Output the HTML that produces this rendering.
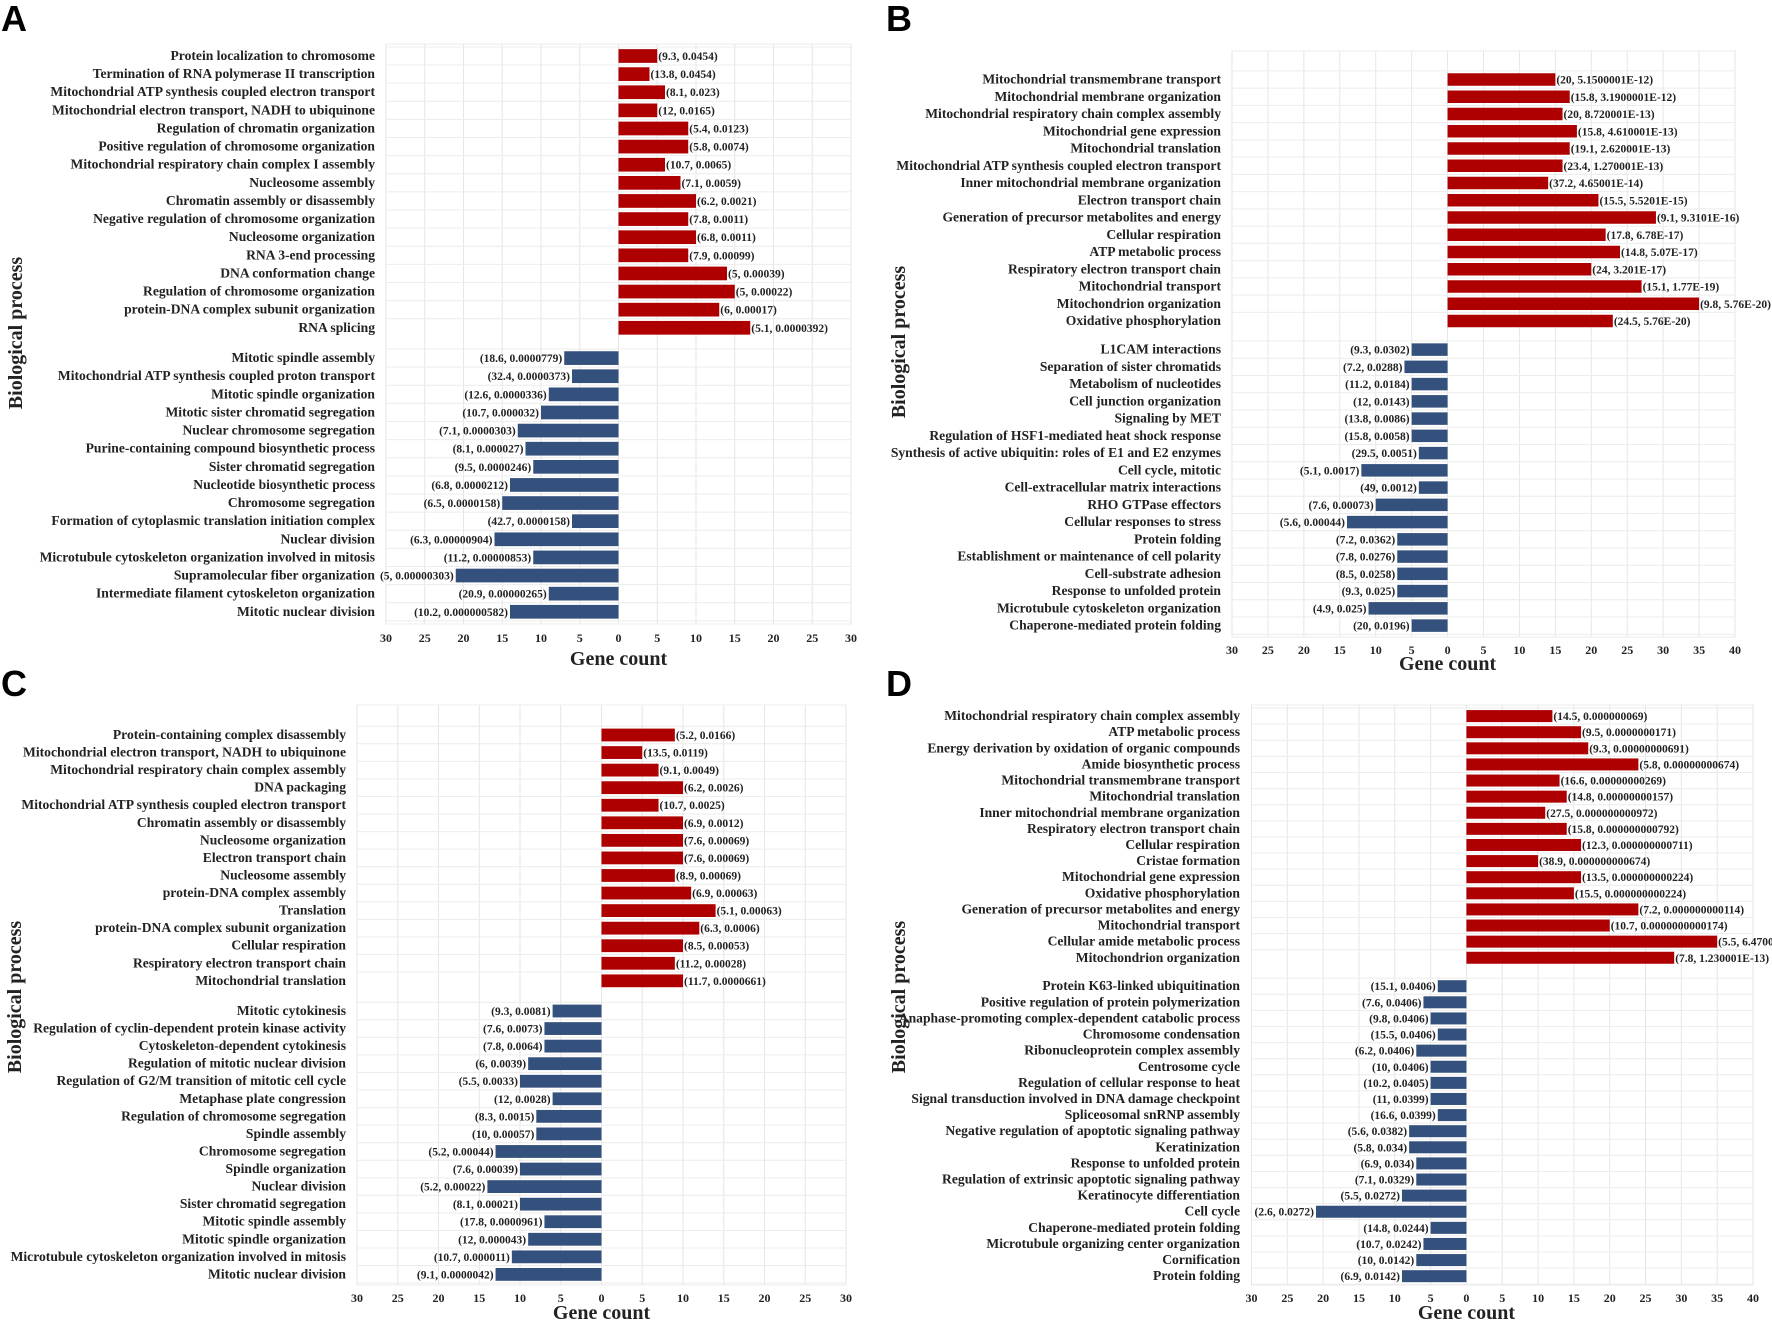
<!DOCTYPE html>
<html><head><meta charset="utf-8"><style>
html,body{margin:0;padding:0;background:#fff;}
svg{display:block;}
.lab{font-family:"Liberation Serif",serif;font-weight:bold;font-size:13.6px;fill:#222;}
.val{font-family:"Liberation Serif",serif;font-weight:bold;font-size:11.5px;fill:#222;}
.tick{font-family:"Liberation Serif",serif;font-weight:bold;font-size:12px;fill:#222;}
.ax{font-family:"Liberation Serif",serif;font-weight:bold;font-size:20px;fill:#222;}
.pl{font-family:"Liberation Sans",sans-serif;font-weight:bold;font-size:36px;fill:#000;}
</style></head><body>
<svg id="chart" xmlns="http://www.w3.org/2000/svg" width="1772" height="1325" viewBox="0 0 1772 1325"></svg>
<script>
// ---- Panel A data ----
const aUpLabels=["Protein localization to chromosome","Termination of RNA polymerase II transcription","Mitochondrial ATP synthesis coupled electron transport","Mitochondrial electron transport, NADH to ubiquinone","Regulation of chromatin organization","Positive regulation of chromosome organization","Mitochondrial respiratory chain complex I assembly","Nucleosome assembly","Chromatin assembly or disassembly","Negative regulation of chromosome organization","Nucleosome organization","RNA 3-end processing","DNA conformation change","Regulation of chromosome organization","protein-DNA complex subunit organization","RNA splicing"];
const aUpCounts=[5,4,6,5,9,9,6,8,10,9,10,9,14,15,13,17];
const aUpText=["(9.3, 0.0454)","(13.8, 0.0454)","(8.1, 0.023)","(12, 0.0165)","(5.4, 0.0123)","(5.8, 0.0074)","(10.7, 0.0065)","(7.1, 0.0059)","(6.2, 0.0021)","(7.8, 0.0011)","(6.8, 0.0011)","(7.9, 0.00099)","(5, 0.00039)","(5, 0.00022)","(6, 0.00017)","(5.1, 0.0000392)"];
const aDownLabels=["Mitotic spindle assembly","Mitochondrial ATP synthesis coupled proton transport","Mitotic spindle organization","Mitotic sister chromatid segregation","Nuclear chromosome segregation","Purine-containing compound biosynthetic process","Sister chromatid segregation","Nucleotide biosynthetic process","Chromosome segregation","Formation of cytoplasmic translation initiation complex","Nuclear division","Microtubule cytoskeleton organization involved in mitosis","Supramolecular fiber organization","Intermediate filament cytoskeleton organization","Mitotic nuclear division"];
const aDownCounts=[7,6,9,10,13,12,11,14,15,6,16,11,21,9,14];
const aDownText=["(18.6, 0.0000779)","(32.4, 0.0000373)","(12.6, 0.0000336)","(10.7, 0.000032)","(7.1, 0.0000303)","(8.1, 0.000027)","(9.5, 0.0000246)","(6.8, 0.0000212)","(6.5, 0.0000158)","(42.7, 0.0000158)","(6.3, 0.00000904)","(11.2, 0.00000853)","(5, 0.00000303)","(20.9, 0.00000265)","(10.2, 0.000000582)"];
const aTicks=[-30,-25,-20,-15,-10,-5,0,5,10,15,20,25,30];
// ---- Panel B data ----
const bUpLabels=["Mitochondrial transmembrane transport","Mitochondrial membrane organization","Mitochondrial respiratory chain complex assembly","Mitochondrial gene expression","Mitochondrial translation","Mitochondrial ATP synthesis coupled electron transport","Inner mitochondrial membrane organization","Electron transport chain","Generation of precursor metabolites and energy","Cellular respiration","ATP metabolic process","Respiratory electron transport chain","Mitochondrial transport","Mitochondrion organization","Oxidative phosphorylation"];
const bUpCounts=[15,17,16,18,17,16,14,21,29,22,24,20,27,35,23];
const bUpText=["(20, 5.1500001E-12)","(15.8, 3.1900001E-12)","(20, 8.720001E-13)","(15.8, 4.610001E-13)","(19.1, 2.620001E-13)","(23.4, 1.270001E-13)","(37.2, 4.65001E-14)","(15.5, 5.5201E-15)","(9.1, 9.3101E-16)","(17.8, 6.78E-17)","(14.8, 5.07E-17)","(24, 3.201E-17)","(15.1, 1.77E-19)","(9.8, 5.76E-20)","(24.5, 5.76E-20)"];
const bDownLabels=["L1CAM interactions","Separation of sister chromatids","Metabolism of nucleotides","Cell junction organization","Signaling by MET","Regulation of HSF1-mediated heat shock response","Synthesis of active ubiquitin: roles of E1 and E2 enzymes","Cell cycle, mitotic","Cell-extracellular matrix interactions","RHO GTPase effectors","Cellular responses to stress","Protein folding","Establishment or maintenance of cell polarity","Cell-substrate adhesion","Response to unfolded protein","Microtubule cytoskeleton organization","Chaperone-mediated protein folding"];
const bDownCounts=[5,6,5,5,5,5,4,12,4,10,14,7,7,7,7,11,5];
const bDownText=["(9.3, 0.0302)","(7.2, 0.0288)","(11.2, 0.0184)","(12, 0.0143)","(13.8, 0.0086)","(15.8, 0.0058)","(29.5, 0.0051)","(5.1, 0.0017)","(49, 0.0012)","(7.6, 0.00073)","(5.6, 0.00044)","(7.2, 0.0362)","(7.8, 0.0276)","(8.5, 0.0258)","(9.3, 0.025)","(4.9, 0.025)","(20, 0.0196)"];
const bTicks=[-30,-25,-20,-15,-10,-5,0,5,10,15,20,25,30,35,40];
// ---- Panel C data ----
const cUpLabels=["Protein-containing complex disassembly","Mitochondrial electron transport, NADH to ubiquinone","Mitochondrial respiratory chain complex assembly","DNA packaging","Mitochondrial ATP synthesis coupled electron transport","Chromatin assembly or disassembly","Nucleosome organization","Electron transport chain","Nucleosome assembly","protein-DNA complex assembly","Translation","protein-DNA complex subunit organization","Cellular respiration","Respiratory electron transport chain","Mitochondrial translation"];
const cUpCounts=[9,5,7,10,7,10,10,10,9,11,14,12,10,9,10];
const cUpText=["(5.2, 0.0166)","(13.5, 0.0119)","(9.1, 0.0049)","(6.2, 0.0026)","(10.7, 0.0025)","(6.9, 0.0012)","(7.6, 0.00069)","(7.6, 0.00069)","(8.9, 0.00069)","(6.9, 0.00063)","(5.1, 0.00063)","(6.3, 0.0006)","(8.5, 0.00053)","(11.2, 0.00028)","(11.7, 0.0000661)"];
const cDownLabels=["Mitotic cytokinesis","Regulation of cyclin-dependent protein kinase activity","Cytoskeleton-dependent cytokinesis","Regulation of mitotic nuclear division","Regulation of G2/M transition of mitotic cell cycle","Metaphase plate congression","Regulation of chromosome segregation","Spindle assembly","Chromosome segregation","Spindle organization","Nuclear division","Sister chromatid segregation","Mitotic spindle assembly","Mitotic spindle organization","Microtubule cytoskeleton organization involved in mitosis","Mitotic nuclear division"];
const cDownCounts=[6,7,7,9,10,6,8,8,13,10,14,10,7,9,11,13];
const cDownText=["(9.3, 0.0081)","(7.6, 0.0073)","(7.8, 0.0064)","(6, 0.0039)","(5.5, 0.0033)","(12, 0.0028)","(8.3, 0.0015)","(10, 0.00057)","(5.2, 0.00044)","(7.6, 0.00039)","(5.2, 0.00022)","(8.1, 0.00021)","(17.8, 0.0000961)","(12, 0.000043)","(10.7, 0.000011)","(9.1, 0.0000042)"];
const cTicks=[-30,-25,-20,-15,-10,-5,0,5,10,15,20,25,30];
// ---- Panel D data ----
const dUpLabels=["Mitochondrial respiratory chain complex assembly","ATP metabolic process","Energy derivation by oxidation of organic compounds","Amide biosynthetic process","Mitochondrial transmembrane transport","Mitochondrial translation","Inner mitochondrial membrane organization","Respiratory electron transport chain","Cellular respiration","Cristae formation","Mitochondrial gene expression","Oxidative phosphorylation","Generation of precursor metabolites and energy","Mitochondrial transport","Cellular amide metabolic process","Mitochondrion organization"];
const dUpCounts=[12,16,17,24,13,14,11,14,16,10,16,15,24,20,35,29];
const dUpText=["(14.5, 0.000000069)","(9.5, 0.0000000171)","(9.3, 0.00000000691)","(5.8, 0.00000000674)","(16.6, 0.00000000269)","(14.8, 0.00000000157)","(27.5, 0.000000000972)","(15.8, 0.000000000792)","(12.3, 0.000000000711)","(38.9, 0.000000000674)","(13.5, 0.000000000224)","(15.5, 0.000000000224)","(7.2, 0.000000000114)","(10.7, 0.0000000000174)","(5.5, 6.470001E-13)","(7.8, 1.230001E-13)"];
const dDownLabels=["Protein K63-linked ubiquitination","Positive regulation of protein polymerization","Anaphase-promoting complex-dependent catabolic process","Chromosome condensation","Ribonucleoprotein complex assembly","Centrosome cycle","Regulation of cellular response to heat","Signal transduction involved in DNA damage checkpoint","Spliceosomal snRNP assembly","Negative regulation of apoptotic signaling pathway","Keratinization","Response to unfolded protein","Regulation of extrinsic apoptotic signaling pathway","Keratinocyte differentiation","Cell cycle","Chaperone-mediated protein folding","Microtubule organizing center organization","Cornification","Protein folding"];
const dDownCounts=[4,6,5,4,7,5,5,5,4,8,8,7,7,9,21,5,6,7,9];
const dDownText=["(15.1, 0.0406)","(7.6, 0.0406)","(9.8, 0.0406)","(15.5, 0.0406)","(6.2, 0.0406)","(10, 0.0406)","(10.2, 0.0405)","(11, 0.0399)","(16.6, 0.0399)","(5.6, 0.0382)","(5.8, 0.034)","(6.9, 0.034)","(7.1, 0.0329)","(5.5, 0.0272)","(2.6, 0.0272)","(14.8, 0.0244)","(10.7, 0.0242)","(10, 0.0142)","(6.9, 0.0142)"];
const dTicks=[-30,-25,-20,-15,-10,-5,0,5,10,15,20,25,30,35,40];

const NS="http://www.w3.org/2000/svg";
const svg=document.getElementById('chart');
function mk(tag,attrs,parent,text){const e=document.createElementNS(NS,tag);for(const k in attrs)e.setAttribute(k,attrs[k]);if(text!==undefined)e.textContent=text;(parent||svg).appendChild(e);return e;}

function panel(p,cfg){
  const g=mk('g',{});
  
  
  const xmin=p.ticks[0], xmax=p.ticks[p.ticks.length-1];
  const X=v=>cfg.left+(v-xmin)/(xmax-xmin)*(cfg.right-cfg.left);
  const upY=i=>cfg.y0+i*cfg.step;
  const dnY=j=>cfg.yb0+j*cfg.step;
  const L=mk('text',{x:cfg.lx,y:cfg.ly,class:'pl'},g,p.id);
  
  
  const bg=mk('rect',{x:cfg.left,y:cfg.top,width:cfg.right-cfg.left,height:cfg.bottom-cfg.top,fill:'#fff',stroke:'#ececec','stroke-width':1},g);
  
  
  p.ticks.forEach(t=>{mk('line',{x1:X(t),x2:X(t),y1:cfg.top,y2:cfg.bottom,stroke:'#e6e6e6','stroke-width':1},g);});
  const ys=[];p.upC.forEach((v,i)=>ys.push(upY(i)));p.dnC.forEach((v,j)=>ys.push(dnY(j)));
  for(let k=0;k<ys.length;k++){
    const yl=ys[k]-cfg.step/2;
    mk('line',{x1:cfg.left,x2:cfg.right,y1:yl,y2:yl,stroke:'#ececec','stroke-width':1},g);
  }
  mk('line',{x1:cfg.left,x2:cfg.right,y1:ys[ys.length-1]+cfg.step/2,y2:ys[ys.length-1]+cfg.step/2,stroke:'#ececec','stroke-width':1},g);
  const z=X(0);
  p.upC.forEach((v,i)=>{
    const y=upY(i);
    const r=mk('rect',{x:z,y:y-cfg.bh/2,width:X(v)-z,height:cfg.bh,fill:'#ae0000'},g);
    
    
    const t=mk('text',{x:X(v)+1,y:y+4,class:'val'},g,p.upT[i]);
    
    
    const l=mk('text',{x:cfg.labx,y:y+4,class:'lab','text-anchor':'end'},g,p.upL[i]);
    
    
  });
  p.dnC.forEach((v,j)=>{
    const y=dnY(j);
    const r=mk('rect',{x:X(-v),y:y-cfg.bh/2,width:z-X(-v),height:cfg.bh,fill:'#34507c'},g);
    
    
    const t=mk('text',{x:X(-v)-2,y:y+4,class:'val','text-anchor':'end'},g,p.dnT[j]);
    
    
    const l=mk('text',{x:cfg.labx,y:y+4,class:'lab','text-anchor':'end'},g,p.dnL[j]);
    
    
  });
  p.ticks.forEach(t=>{
    const tl=mk('text',{x:X(t),y:cfg.ticky,class:'tick','text-anchor':'middle'},g,String(Math.abs(t)));
    
    
  });
  const xt=mk('text',{x:z,y:cfg.xty,class:'ax','text-anchor':'middle'},g,'Gene count');
  
  
  const yt=mk('text',{x:0,y:0,class:'ax','text-anchor':'middle',transform:'translate('+cfg.ytx+','+cfg.yty+') rotate(-90)'},g,'Biological process');
  
  
}

panel({id:'A',ticks:aTicks,upL:aUpLabels,upC:aUpCounts,upT:aUpText,dnL:aDownLabels,dnC:aDownCounts,dnT:aDownText},
  {left:386,right:851,top:44,bottom:624,y0:56,yb0:358.1,step:18.12,bh:13.7,labx:375,ticky:642,xty:665,lx:1,ly:31,ytx:22,yty:333});
panel({id:'B',ticks:bTicks,upL:bUpLabels,upC:bUpCounts,upT:bUpText,dnL:bDownLabels,dnC:bDownCounts,dnT:bDownText},
  {left:1232,right:1735,top:51,bottom:637,y0:79.5,yb0:349.6,step:17.25,bh:12.5,labx:1221,ticky:654,xty:670,lx:886,ly:31,ytx:905,yty:342});
panel({id:'C',ticks:cTicks,upL:cUpLabels,upC:cUpCounts,upT:cUpText,dnL:cDownLabels,dnC:cDownCounts,dnT:cDownText},
  {left:357,right:846,top:705,bottom:1285,y0:735,yb0:1011,step:17.56,bh:12.8,labx:346,ticky:1302,xty:1319,lx:1,ly:696,ytx:21,yty:997});
panel({id:'D',ticks:dTicks,upL:dUpLabels,upC:dUpCounts,upT:dUpText,dnL:dDownLabels,dnC:dDownCounts,dnT:dDownText},
  {left:1251.5,right:1753,top:705,bottom:1285,y0:716.1,yb0:986.2,step:16.11,bh:12,labx:1240,ticky:1302,xty:1319,lx:886,ly:696,ytx:905,yty:997});
</script>
</body></html>
